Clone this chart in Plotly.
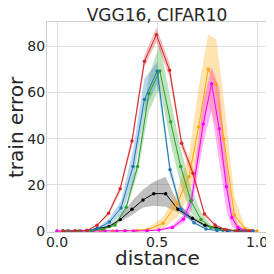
import plotly.graph_objects as go

# ---- data ----
x_red = [0.03, 0.09, 0.15, 0.2, 0.258, 0.316, 0.375, 0.437, 0.497, 0.563, 0.623, 0.68, 0.737, 0.79, 0.84, 0.9, 0.96]
y_red = [0, 0, 0.3, 2.5, 7.7, 18.3, 39, 73.5, 85, 69.6, 38, 25, 7.4, 2.6, 0.7, 0.1, 0]
lo_red = [0, 0, 0.2, 2.0, 6.7, 16.8, 37, 71, 82, 66.6, 36, 23, 6.4, 2.0, 0.4, 0, 0]
hi_red = [0, 0, 0.4, 3.0, 8.7, 19.8, 41, 76, 88, 72.6, 40, 27, 8.4, 3.2, 1.0, 0.2, 0]

x_blue = [0.03, 0.09, 0.15, 0.205, 0.262, 0.32, 0.38, 0.437, 0.501, 0.565, 0.62, 0.685, 0.745, 0.8, 0.86, 0.92, 0.98]
y_blue = [0, 0, 0.2, 1.2, 3.9, 10, 28, 57, 69.3, 26.5, 9.4, 3.6, 0.9, 0.2, 0, 0, 0]
lo_blue = [0, 0, 0.1, 0.7, 2.5, 7, 21, 52, 64, 24, 8, 3, 0.6, 0.1, 0, 0, 0]
hi_blue = [0, 0, 0.3, 1.8, 5.5, 13, 35, 66, 73, 29, 11, 4.2, 1.2, 0.3, 0, 0, 0]

x_green = [0.054, 0.11, 0.17, 0.23, 0.29, 0.346, 0.403, 0.459, 0.514, 0.568, 0.618, 0.669, 0.72, 0.77, 0.83, 0.89, 0.95]
y_green = [0, 0, 0.2, 0.8, 2.6, 10.3, 28, 59.6, 69.3, 47.3, 28, 13.1, 5, 1.6, 0.4, 0.1, 0]
lo_green = [0, 0, 0.1, 0.6, 2.0, 9.0, 25, 52, 62, 38, 20, 8, 2.5, 0.8, 0.2, 0, 0]
hi_green = [0, 0, 0.3, 1.0, 3.2, 11.6, 31, 67, 81, 57, 36, 19, 8, 2.6, 0.7, 0.2, 0]

x_black = [0.03, 0.09, 0.15, 0.2, 0.26, 0.316, 0.375, 0.43, 0.484, 0.543, 0.605, 0.677, 0.74, 0.795, 0.85, 0.91, 0.97]
y_black = [0, 0, 0.3, 1.0, 2.0, 5.0, 9.4, 13.5, 16.2, 16.2, 9.4, 5.5, 2.5, 1.3, 0.4, 0.1, 0]
lo_black = [0, 0, 0.2, 0.8, 1.6, 4.0, 7.0, 10.2, 11, 10.5, 8, 4.5, 2, 1, 0.3, 0, 0]
hi_black = [0, 0, 0.4, 1.2, 2.4, 6.0, 13, 18, 21.3, 23.5, 12, 6.5, 3, 1.6, 0.5, 0.2, 0]

x_orange = [0.0, 0.052, 0.104, 0.16, 0.22, 0.28, 0.34, 0.4, 0.456, 0.53, 0.6, 0.66, 0.708, 0.756, 0.796, 0.833, 0.887, 0.94, 1.0]
y_orange = [0, 0, 0, 0, 0, 0, 0.1, 0.3, 0.7, 3.4, 12, 23.5, 45, 70, 63.5, 40, 7, 1, 0]
lo_orange = [0, 0, 0, 0, 0, 0, 0, 0.1, 0.3, 1.0, 6, 15, 30, 55, 45, 24, 2, 0.3, 0]
hi_orange = [0, 0, 0, 0, 0, 0, 0.2, 0.6, 1.5, 6, 17, 33, 62, 85, 83, 58, 15, 2, 0]

x_mag = [0.0, 0.06, 0.12, 0.18, 0.24, 0.3, 0.34, 0.383, 0.45, 0.51, 0.577, 0.632, 0.672, 0.731, 0.773, 0.811, 0.847, 0.874, 0.904, 0.94, 0.98]
y_mag = [0, 0, 0, 0, 0, 0, 0, 0, 0.1, 0.5, 1.6, 5.1, 13.3, 46.3, 63.8, 44.3, 19.2, 5.8, 1.6, 0.3, 0]
lo_mag = [0, 0, 0, 0, 0, 0, 0, 0, 0, 0.3, 1.0, 3.5, 9, 38, 52, 30, 9, 2, 0.6, 0.1, 0]
hi_mag = [0, 0, 0, 0, 0, 0, 0, 0, 0.2, 0.8, 2.5, 7, 17, 56, 71, 62, 30, 10, 3, 0.6, 0]

x_ticks = [0.0, 0.5, 1.0]
x_tick_labels = ["0.0", "0.5", "1.0"]
y_ticks = [0, 20, 40, 60, 80]
y_tick_labels = ["0", "20", "40", "60", "80"]

series = [
    (x_black, y_black, lo_black, hi_black, "#000000", "rgba(0,0,0,0.25)"),
    (x_orange, y_orange, lo_orange, hi_orange, "#ffa500", "rgba(255,165,0,0.3)"),
    (x_mag, y_mag, lo_mag, hi_mag, "#ff00ff", "rgba(255,0,255,0.3)"),
    (x_green, y_green, lo_green, hi_green, "#2ca02c", "rgba(44,160,44,0.3)"),
    (x_blue, y_blue, lo_blue, hi_blue, "#1f77b4", "rgba(31,119,180,0.3)"),
    (x_red, y_red, lo_red, hi_red, "#d62728", "rgba(214,39,40,0.3)"),
]

fig = go.Figure()
for xs, ys, lo, hi, col, fcol in series:
    fig.add_trace(go.Scatter(
        x=list(xs) + list(xs)[::-1], y=list(hi) + list(lo)[::-1],
        fill="toself", fillcolor=fcol, line=dict(width=0), mode="lines",
        hoverinfo="skip", showlegend=False))
for xs, ys, lo, hi, col, fcol in series:
    fig.add_trace(go.Scatter(
        x=xs, y=ys, mode="lines+markers",
        line=dict(color=col, width=1),
        marker=dict(color=col, size=3.5),
        showlegend=False))

# The page body has an 8px margin, so the figure is laid out 8px smaller/shifted.
W = H = 266
font = "DejaVu Sans"
fig.update_layout(
    width=W, height=H,
    margin=dict(l=39, r=7, t=14, b=42, autoexpand=False),
    paper_bgcolor="white", plot_bgcolor="white",
    font=dict(family=font, color="#262626"),
    title=dict(text="VGG16, CIFAR10", x=0.5, xref="paper", y=1 - 7.5 / H,
               yanchor="middle", font=dict(size=17, family=font, color="#262626")),
    showlegend=False,
)
fig.update_xaxes(range=[-0.05, 1.05], tickvals=x_ticks, ticktext=x_tick_labels,
                 tickfont=dict(size=14), showgrid=True, gridcolor="#e0e0e0", gridwidth=1,
                 zeroline=False, showline=True, linecolor="#d0d0d0", linewidth=1, mirror=True,
                 ticks="", ticklabelstandoff=-3)
fig.update_yaxes(range=[-0.4, 90.5], tickvals=y_ticks, ticktext=y_tick_labels,
                 tickfont=dict(size=14), showgrid=True, gridcolor="#e0e0e0", gridwidth=1,
                 zeroline=False, showline=True, linecolor="#d0d0d0", linewidth=1, mirror=True,
                 ticks="", ticklabelstandoff=-2)
fig.add_annotation(text="distance", xref="paper", yref="paper", x=0.5, y=-26 / 210,
                   yanchor="middle", showarrow=False, font=dict(size=20, family=font, color="#262626"))
fig.add_annotation(text="train error", xref="paper", yref="paper", x=-31 / 220, y=0.5,
                   xanchor="center", yanchor="middle", textangle=-90, showarrow=False,
                   font=dict(size=20, family=font, color="#262626"))
fig.write_html("out.html")
